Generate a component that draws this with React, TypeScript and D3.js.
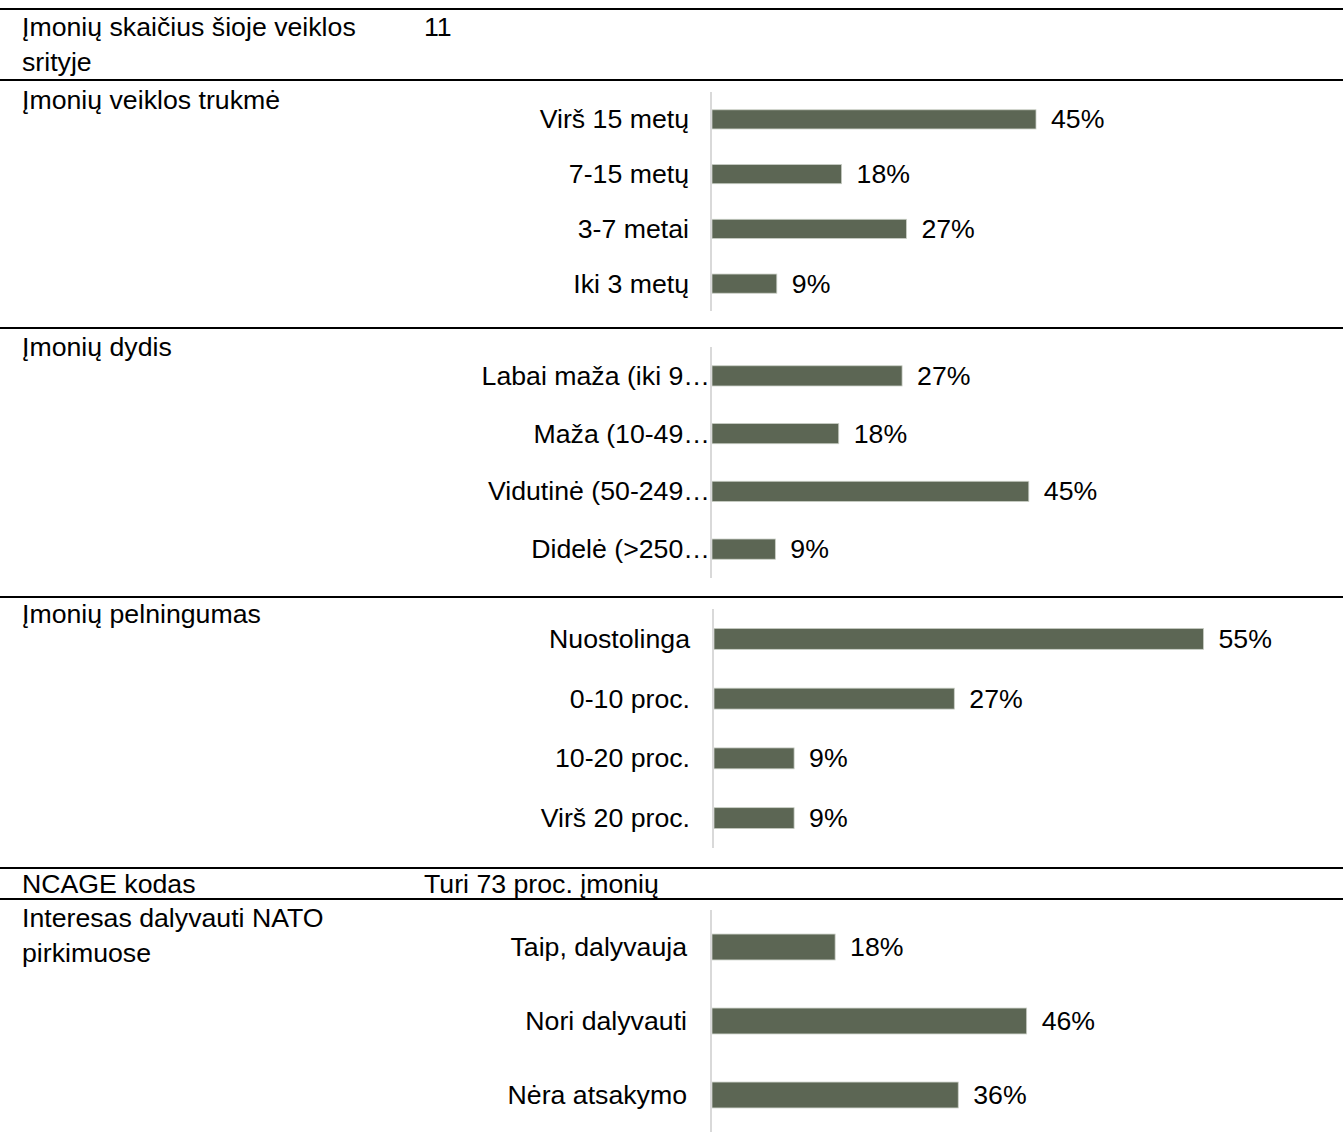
import React from "react";
import * as d3 from "d3";

const W = 1343;
const H = 1144;
const FONT = "'Liberation Sans', Arial, sans-serif";
const FS = 26.7;
const BAR = "#5c6654";

// table rows
const ruleYs = [9, 80, 328, 597, 868, 899];
const leftTexts = [
  { text: "Įmonių skaičius šioje veiklos", y: 27 },
  { text: "srityje", y: 62 },
  { text: "Įmonių veiklos trukmė", y: 100 },
  { text: "Įmonių dydis", y: 347 },
  { text: "Įmonių pelningumas", y: 614 },
  { text: "NCAGE kodas", y: 884 },
  { text: "Interesas dalyvauti NATO", y: 918 },
  { text: "pirkimuose", y: 953 },
];
const midTexts = [
  { text: "11", y: 27 },
  { text: "Turi 73 proc. įmonių", y: 884 },
];

// chart data
const trukmeCats = ["Virš 15 metų", "7-15 metų", "3-7 metai", "Iki 3 metų"];
const trukmeVals = [45, 18, 27, 9];
const dydisCats = ["Labai maža (iki 9…", "Maža (10-49…", "Vidutinė (50-249…", "Didelė (>250…"];
const dydisVals = [27, 18, 45, 9];
const pelnCats = ["Nuostolinga", "0-10 proc.", "10-20 proc.", "Virš 20 proc."];
const pelnVals = [55, 27, 9, 9];
const natoCats = ["Taip, dalyvauja", "Nori dalyvauti", "Nėra atsakymo"];
const natoVals = [18, 46, 36];

type Panel = {
  cats: string[];
  vals: number[];
  axisX: number;
  top: number;
  bottom: number;
  max: number;
  width: number;
  labelX: number;
};

const panels: Panel[] = [
  { cats: trukmeCats, vals: trukmeVals, axisX: 711, top: 92, bottom: 311, max: 50, width: 360, labelX: 689 },
  { cats: dydisCats, vals: dydisVals, axisX: 711, top: 347, bottom: 578, max: 50, width: 352, labelX: 710 },
  { cats: pelnCats, vals: pelnVals, axisX: 713, top: 609, bottom: 848, max: 60, width: 534, labelX: 690 },
  { cats: natoCats, vals: natoVals, axisX: 711, top: 910, bottom: 1132, max: 50, width: 342, labelX: 687 },
];

function BarPanel({ p }: { p: Panel }) {
  const y = d3
    .scaleBand<string>()
    .domain(p.cats)
    .range([p.top, p.bottom])
    .paddingInner(0.65)
    .paddingOuter(0.325);
  const x = d3.scaleLinear().domain([0, p.max]).range([p.axisX + 1, p.axisX + 1 + p.width]);
  return (
    <g>
      {p.cats.map((c, i) => {
        const yy = y(c)!;
        const bw = y.bandwidth();
        return (
          <g key={c}>
            <rect
              x={x(0)}
              y={yy}
              width={x(p.vals[i]) - x(0)}
              height={bw}
              fill={BAR}
              stroke="#c9cec5"
              strokeWidth={0.8}
            />
            <text
              x={p.labelX}
              y={yy + bw / 2}
              textAnchor="end"
              dominantBaseline="central"
              fontSize={FS}
              fill="#000"
            >
              {c}
            </text>
            <text
              x={x(p.vals[i]) + 15}
              y={yy + bw / 2}
              dominantBaseline="central"
              fontSize={FS}
              fill="#000"
            >
              {d3.format(".0f")(p.vals[i]) + "%"}
            </text>
          </g>
        );
      })}
      <line x1={p.axisX} x2={p.axisX} y1={p.top} y2={p.bottom} stroke="#d9d9d9" strokeWidth={2} />
    </g>
  );
}

export default function App() {
  return (
    <div style={{ position: "absolute", left: 0, top: 0, width: W, height: H, background: "#fff" }}>
      <svg width={W} height={H} style={{ display: "block", fontFamily: FONT }}>
        <rect x={0} y={0} width={W} height={H} fill="#fff" />
        {ruleYs.map((ry) => (
          <line key={ry} x1={0} x2={W} y1={ry} y2={ry} stroke="#000" strokeWidth={2} />
        ))}
        {leftTexts.map((t) => (
          <text key={t.text} x={22} y={t.y} dominantBaseline="central" fontSize={FS} fill="#000">
            {t.text}
          </text>
        ))}
        {midTexts.map((t) => (
          <text key={t.text} x={424} y={t.y} dominantBaseline="central" fontSize={FS} fill="#000">
            {t.text}
          </text>
        ))}
        {panels.map((p, i) => (
          <BarPanel key={i} p={p} />
        ))}
      </svg>
    </div>
  );
}
